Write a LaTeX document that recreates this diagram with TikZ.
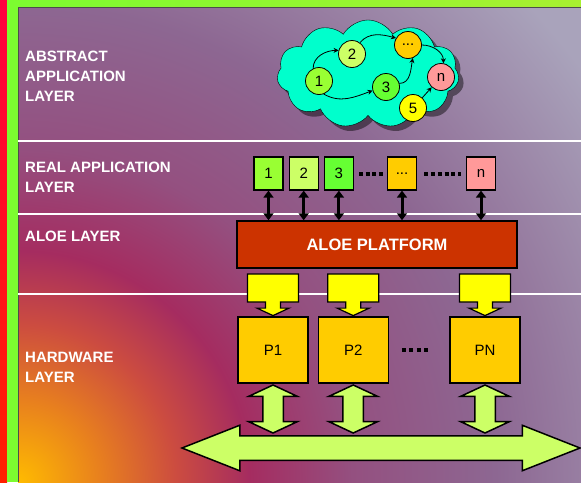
\documentclass[tikz,border=0pt]{standalone}
\usepackage{fontspec}
\setmainfont{Liberation Sans}
\usepackage{tikz}
\usetikzlibrary{arrows.meta,positioning,shapes.symbols,shapes.arrows,shadows}

\definecolor{appA}{HTML}{99FF33}
\definecolor{appB}{HTML}{CCFF66}
\definecolor{appC}{HTML}{66FF33}
\definecolor{appD}{HTML}{FFCC00}
\definecolor{appN}{HTML}{FF9999}
\definecolor{appF}{HTML}{FFFF00}
\definecolor{aloered}{HTML}{CC3300}
\definecolor{skyfill}{HTML}{00FFCC}
\definecolor{barA}{HTML}{FF0040}
\definecolor{barB}{HTML}{FF8000}
\definecolor{barC}{HTML}{FF2000}
\definecolor{railA}{HTML}{7CFC30}
\definecolor{railB}{HTML}{A8F030}
\definecolor{glowA}{HTML}{FFBB00}
\definecolor{glowB}{HTML}{E8801E}
\definecolor{glowC}{HTML}{CC4C40}
\definecolor{glowD}{HTML}{A52C60}
\definecolor{glowE}{HTML}{945080}
\definecolor{glowF}{HTML}{8D6792}
\definecolor{glowG}{HTML}{A9A3BB}

\pgfdeclareradialshading{glow}{\pgfpointorigin}{color(0bp)=(glowA);
  color(2.7bp)=(glowB); color(5.2bp)=(glowC); color(7.6bp)=(glowD);
  color(11bp)=(glowE); color(15.7bp)=(glowF); color(23bp)=(glowG);
  color(50bp)=(glowG)}

\begin{document}
\begin{tikzpicture}[
  x=1pt, y=-1pt,
  layertext/.style={text=white, anchor=west, align=left, inner sep=0,
    font=\bfseries\fontsize{15}{20}\selectfont},
  task/.style={circle, draw, line width=0.8pt, minimum size=27pt,
    inner sep=0, font=\fontsize{15}{15}\selectfont},
  flow/.style={-{Stealth[length=5pt,width=5pt]}, line width=0.8pt},
  appbox/.style={draw, line width=1.2pt, minimum width=29pt,
    minimum height=33pt, inner sep=0, font=\fontsize{15}{15}\selectfont},
  dots/.style={line width=4pt, dash pattern=on 4pt off 2.5pt},
  link/.style={{Triangle[length=7pt,width=10pt]}-{Triangle[length=7pt,width=10pt]},
    line width=3pt},
  feed/.style={arrow box, draw, line width=1.2pt, fill=appF,
    minimum width=51pt, minimum height=28pt, inner sep=0,
    arrow box arrows={south:13pt}, arrow box shaft width=15pt,
    arrow box head extend=8.5pt, arrow box tip angle=130},
  proc/.style={draw, line width=1.2pt, fill=appD, minimum width=70pt,
    minimum height=66pt, font=\fontsize{15}{15}\selectfont},
  io/.style={double arrow, draw, line width=1.5pt, fill=appB, inner sep=0}
]
  \useasboundingbox (0,0) rectangle (581,482);

  % background
  \begin{scope}
    \clip (18,7) rectangle (581,482);
    \shade[shading=glow] (18,482) circle (760pt);
  \end{scope}
  \shade[top color=barA, middle color=barB, bottom color=barC] (0,0) rectangle (7,482);
  \fill[railA] (7,0) rectangle (18,482);
  \shade[left color=railA, right color=railB] (7,0) rectangle (581,7);
  \draw[black!70, line width=0.8pt] (581,7) -- (18,7) -- (18,482);
  \foreach \y in {141,214,294}
    \draw[white, line width=2.5pt] (18,\y) -- (581,\y);

  % layer names
  \node[layertext] (abstract) at (25,76) {ABSTRACT\\APPLICATION\\LAYER};
  \node[layertext] (real) at (25,177) {REAL APPLICATION\\LAYER};
  \node[layertext] (aloelayer) at (25,236) {ALOE LAYER};
  \node[layertext] (hardware) at (25,367) {HARDWARE\\LAYER};

  % abstract application
  \node[cloud, draw, fill=skyfill, cloud puffs=11, cloud puff arc=120,
    aspect=1.7, minimum width=182pt, minimum height=108pt,
    drop shadow={shadow xshift=5pt, shadow yshift=-5pt, fill=black, opacity=0.45}]
    (sky) at (368,74) {};
  \node[task, fill=appA] (t1) at (319,81) {1};
  \node[task, fill=appB] (t2) at (352,54) {2};
  \node[task, fill=appD] (td) at (408,45) {...};
  \node[task, fill=appC] (t3) at (386,87) {3};
  \node[task, fill=appN] (tn) at (441,77) {n};
  \node[task, fill=appF] (t5) at (413,108) {5};

  \draw[flow] (t1.115) to[out=90, in=180] (t2.165);
  \draw[flow] (t1.-70) to[out=-30, in=200] (t3.195);
  \draw[flow] (t2.55) to[out=50, in=165] (td.150);
  \draw[flow] (t3.15) to[out=0, in=-100] (td.-70);
  \draw[flow] (td.east) to[out=0, in=90] (tn.80);
  \draw[flow] (t5) -- (tn);

  % real application
  \node[appbox, fill=appA] (r1) at (268.5,173.5) {1};
  \node[appbox, fill=appB, right=5pt of r1] (r2) {2};
  \node[appbox, fill=appC, right=5pt of r2] (r3) {3};
  \node[appbox, fill=appD] (rd) at (402,173.5) {...};
  \node[appbox, fill=appN] (rn) at (481,173.5) {n};
  \draw[dots, shorten <=5pt, shorten >=2pt] (r3) -- (rd);
  \draw[dots, dash pattern=on 4pt off 2.8pt, shorten <=7pt, shorten >=5pt] (rd) -- (rn);

  % aloe
  \node[draw, line width=1.5pt, fill=aloered, text=white,
    font=\bfseries\fontsize{16.5}{16.5}\selectfont,
    minimum width=280pt, minimum height=47pt] (aloe) at (377,244.5) {ALOE PLATFORM};
  \foreach \r in {r1,r2,r3,rd,rn}
    \draw[link] (\r.south) -- (\r.south |- aloe.north);

  % hardware
  \node[proc] (p1) at (273,350) {P1};
  \node[proc, right=9pt of p1] (p2) {P2};
  \node[proc] (pn) at (485,350) {PN};
  \draw[dots, line width=4pt, dash pattern=on 4pt off 3.5pt,
    shorten <=13pt, shorten >=21pt] (p2) -- (pn);

  \node[feed] (f1) at (p1 |- 0,288) {};
  \node[feed] (f2) at (p2 |- 0,288) {};
  \node[feed] (fn) at (pn |- 0,288) {};

  \node[io, minimum height=398pt, inner ysep=11.5pt,
    double arrow head extend=10.5pt, double arrow tip angle=43] (bus) at (381,448) {};
  \node[io, rotate=90, minimum height=48pt, inner ysep=9.5pt,
    double arrow head extend=14pt, double arrow tip angle=130] (b1) at (p1 |- 0,409) {};
  \node[io, rotate=90, minimum height=48pt, inner ysep=9.5pt,
    double arrow head extend=14pt, double arrow tip angle=130] (b2) at (p2 |- 0,409) {};
  \node[io, rotate=90, minimum height=48pt, inner ysep=9.5pt,
    double arrow head extend=14pt, double arrow tip angle=130] (bn) at (pn |- 0,409) {};
\end{tikzpicture}
\end{document}
